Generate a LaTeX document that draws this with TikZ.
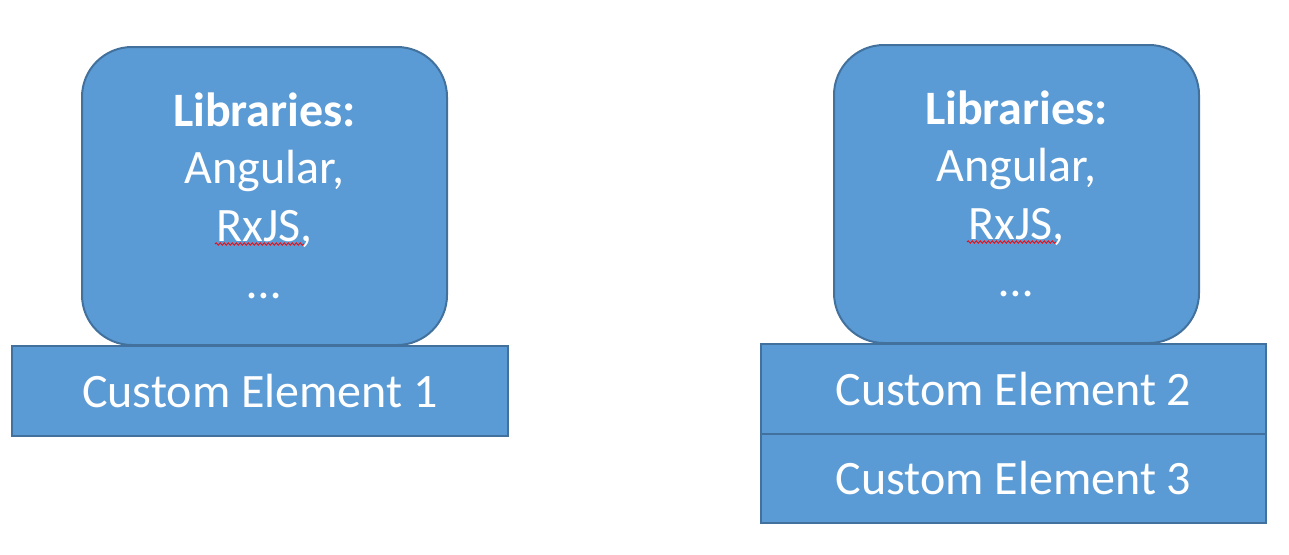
\documentclass[tikz,border=0pt]{standalone}
\usepackage{fontspec}
\setmainfont{Carlito}
\usetikzlibrary{positioning,decorations.pathmorphing}
\definecolor{boxfill}{HTML}{5B9BD5}
\definecolor{boxline}{HTML}{41719C}
\begin{document}
\begin{tikzpicture}[x=0.5pt,y=0.5pt,
	blk/.style={draw=boxline,fill=boxfill,line width=1pt,inner sep=0pt,outer sep=0pt},
	libbox/.style={blk,rounded corners=25pt,minimum width=182.5pt,minimum height=149pt},
	elembox/.style={blk,minimum height=45pt,text=white,font=\fontsize{24}{29}\selectfont},
	libtext/.style={text=white,align=center,inner sep=0pt,font=\fontsize{24}{28.75}\selectfont},
	squiggle/.style={red,line width=0.4pt,decorate,decoration={snake,amplitude=0.6pt,segment length=2pt}}]
 	\useasboundingbox (0,0) rectangle (1289,554);
	\node[libbox] (lib1) at (264.5,358) {};
	\node[libtext] (libtxt1) at (lib1.center) {\textbf{Libraries:}\\Angular,\\RxJS,\\…};
	\draw[squiggle] ([shift={(-49.5,-48)}]lib1.center) -- ++(89,0);
	\node[elembox,minimum width=248pt] (elem1) at (260,163) {Custom Element 1};
	\node[libbox] (lib2) at (1016.5,360) {};
	\node[libtext] (libtxt2) at (lib2.center) {\textbf{Libraries:}\\Angular,\\RxJS,\\…};
	\draw[squiggle] ([shift={(-49.5,-48)}]lib2.center) -- ++(89,0);
	\node[elembox,minimum width=252.5pt] (elem2) at (1013.5,165) {Custom Element 2};
	\node[elembox,minimum width=252.5pt,minimum height=44.5pt,below=0pt of elem2] (elem3) {Custom Element 3};
\end{tikzpicture}
\end{document}
